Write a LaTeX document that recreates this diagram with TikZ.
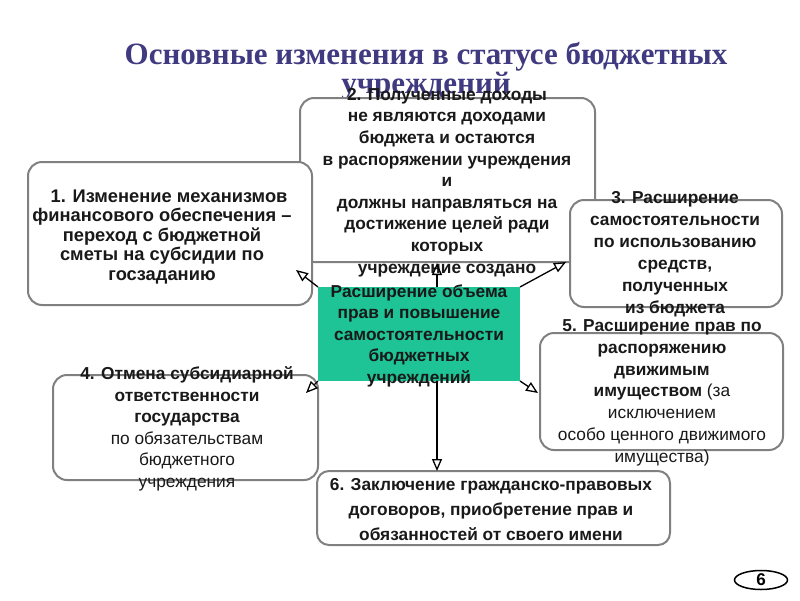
\documentclass[tikz,border=0pt]{standalone}
\usepackage{fontspec}
\setmainfont{Liberation Sans}
\newfontfamily\titlefont{Liberation Serif}
\usetikzlibrary{arrows.meta,shapes.geometric}
\definecolor{titleblue}{RGB}{64,58,128}
\definecolor{boxgray}{RGB}{128,128,128}
\definecolor{cgreen}{RGB}{30,195,150}
\begin{document}
\begin{tikzpicture}[x=1pt,y=-1pt,
 box/.style={draw=boxgray, line width=2pt, rounded corners=14pt, fill=white, inner sep=0pt, outer sep=0pt},
 txt/.style={align=center, text=black!90, inner sep=0pt, anchor=base},
 bf/.style={font=\bfseries\fontsize{17.3}{#1}\selectfont},
 arr/.style={draw=black, line width=1.3pt, -{Triangle[open, length=12pt, width=10pt]}}
]
\useasboundingbox (0,0) rectangle (800,600);
\node[anchor=base, align=center, inner sep=0pt, text=titleblue,
  font=\titlefont\bfseries\fontsize{31}{29}\selectfont] (title) at (426,93)
  {Основные изменения в статусе бюджетных\\учреждений};
% boxes
\node[box, minimum width=295pt, minimum height=164pt] (b2) at (447.5,180) {};
\node[txt, bf=21.6] (t2) at (447,273) {2. Полученные доходы\\не являются доходами\\бюджета и остаются\\в распоряжении учреждения\\и\\должны направляться на\\достижение целей ради\\которых\\учреждение создано};
\node[box, minimum width=284pt, minimum height=143pt] (b1) at (170,233.5) {};
\node[txt, font=\bfseries\fontsize{18.3}{19.5}\selectfont] (t1) at (162,280) {\hspace*{14pt}1. Изменение механизмов\\финансового обеспечения –\\переход с бюджетной\\сметы на субсидии по\\госзаданию};
\node[box, minimum width=212pt, minimum height=107pt] (b3) at (676,253.5) {};
\node[txt, bf=22] (t3) at (675,313) {3. Расширение\\самостоятельности\\по использованию\\средств,\\полученных\\из бюджета};
\node[fill=cgreen, minimum width=202pt, minimum height=94pt, inner sep=0pt, outer sep=0pt] (c) at (419,334) {};
\node[txt, bf=21.5] (tc) at (419,383) {Расширение объема\\прав и повышение\\самостоятельности\\бюджетных\\учреждений};
\node[box, minimum width=265pt, minimum height=105pt] (b4) at (185.5,427.5) {};
\node[txt, bf=21.5] (t4) at (187,487) {4. Отмена субсидиарной\\ответственности\\государства\\\mdseries по обязательствам\\\mdseries бюджетного\\\mdseries учреждения};
\node[box, minimum width=243pt, minimum height=117pt] (b5) at (661.5,391.5) {};
\node[txt, bf=21.7] (t5) at (662,462) {5. Расширение прав по\\распоряжению\\движимым\\имуществом {\mdseries(за}\\\mdseries исключением\\\mdseries особо ценного движимого\\\mdseries имущества)};
\node[box, rounded corners=12pt, minimum width=353pt, minimum height=74pt] (b6) at (493.5,508) {};
\node[txt, bf=25] (t6) at (491,540) {6. Заключение гражданско-правовых\\договоров, приобретение прав и\\обязанностей от своего имени};
% arrows
\coordinate (a1) at (296,270);
\coordinate (a2) at (437,263);
\coordinate (a3) at (566,262);
\coordinate (a4) at (306,393);
\coordinate (a5) at (538,393);
\coordinate (a6) at (437,471);
\draw[arr] (c.north west) -- (a1);
\draw[arr] (c.north west -| a2) -- (a2);
\draw[arr] (c.north east) -- (a3);
\draw[arr] (c.south west) -- (a4);
\draw[arr] (c.south east) -- (a5);
\draw[arr] (c.south west -| a6) -- (a6);
% page number
\node[draw=black, line width=1.5pt, ellipse, minimum width=53pt, minimum height=19pt, inner sep=0pt,
  font=\bfseries\fontsize{17}{17}\selectfont] (pg) at (761,580) {6};
\end{tikzpicture}
\end{document}
